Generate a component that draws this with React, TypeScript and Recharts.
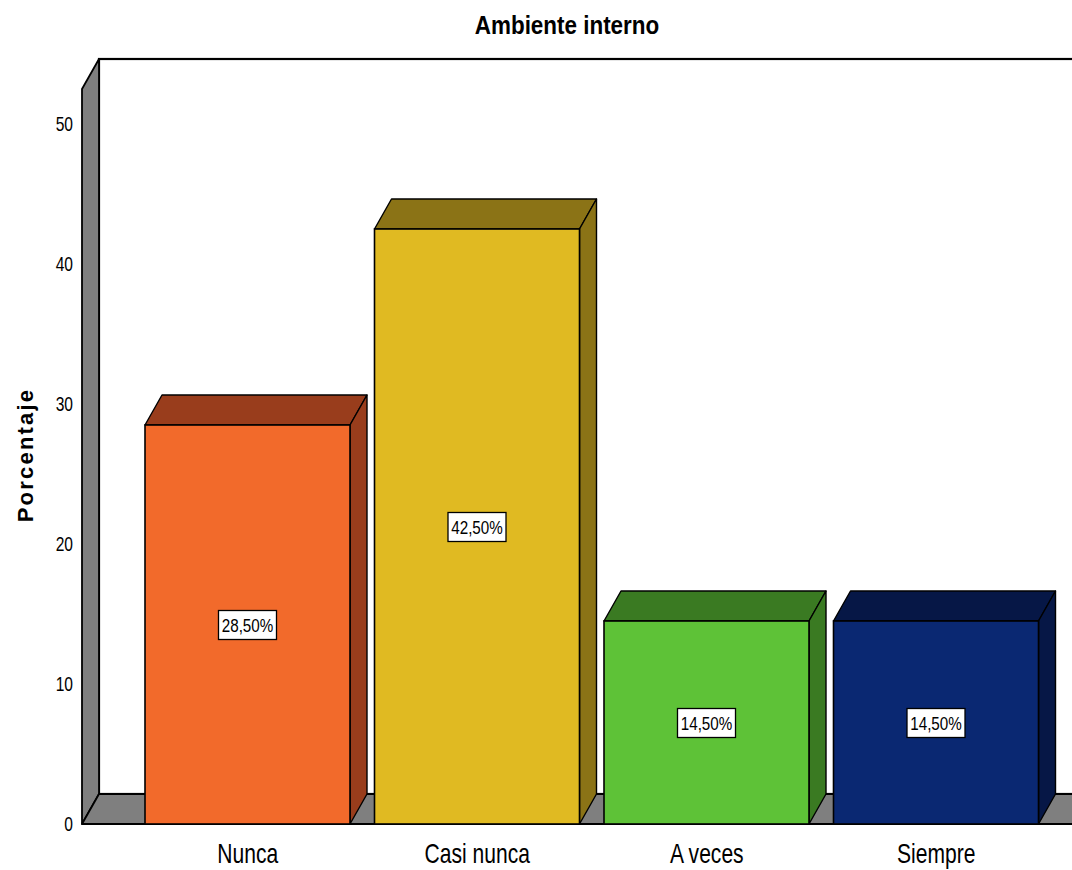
import { BarChart, Bar, XAxis, YAxis, LabelList } from 'recharts'

const categories = ['Nunca', 'Casi nunca', 'A veces', 'Siempre']
const percentages = [28.5, 42.5, 14.5, 14.5]
const valueLabels = ['28,50%', '42,50%', '14,50%', '14,50%']
const yTicks = [0, 10, 20, 30, 40, 50]

const frontColors = ['#F26A2B', '#E0BA22', '#5EC237', '#0A2872']
const darkColors = ['#993D1C', '#8B7316', '#3A7A22', '#061746']

const data = categories.map((name, i) => ({ name, value: percentages[i], label: valueLabels[i] }))

const W = 1072
const H = 870
const LEFT = 82
const TOP = 89
const BOTTOM = 824
const DX = 17
const DY = -30
const font = "'Liberation Sans', Arial, sans-serif"

// condensed text: the original uses a narrow face, so squeeze horizontally
function Narrow({ x, y, size, anchor = 'middle', sx = 0.78, weight = 'normal', children }: any) {
  return (
    <text
      transform={`translate(${x},${y}) scale(${sx},1)`}
      textAnchor={anchor}
      fontSize={size}
      fontWeight={weight}
      fontFamily={font}
      fill="#000"
    >
      {children}
    </text>
  )
}

function XTick(props: any) {
  const { x, y, payload } = props
  return <Narrow x={x} y={y + 37} size={27}>{payload.value}</Narrow>
}

function YTick(props: any) {
  const { x, y, payload } = props
  return <Narrow x={x} y={y + 7} size={20} anchor="end">{payload.value}</Narrow>
}

function Box3D(props: any) {
  const { x, y, width, height, index } = props
  const front = frontColors[index]
  const dark = darkColors[index]
  return (
    <g>
      <polygon
        points={`${x},${y} ${x + width},${y} ${x + width + DX},${y + DY} ${x + DX},${y + DY}`}
        fill={dark}
        stroke="#000"
        strokeWidth={1.4}
        strokeLinejoin="round"
      />
      <polygon
        points={`${x + width},${y} ${x + width + DX},${y + DY} ${x + width + DX},${y + height + DY} ${x + width},${y + height}`}
        fill={dark}
        stroke="#000"
        strokeWidth={1.4}
        strokeLinejoin="round"
      />
      <rect x={x} y={y} width={width} height={height} fill={front} stroke="#000" strokeWidth={1.6} />
    </g>
  )
}

function ValueTag(props: any) {
  const { x, y, width, height, value } = props
  const cx = x + width / 2
  const cy = y + height / 2
  return (
    <g>
      <rect x={cx - 29} y={cy - 14} width={58} height={29} fill="#fff" stroke="#000" strokeWidth={1.3} />
      <Narrow x={cx} y={cy + 7} size={19} sx={0.8}>{value}</Narrow>
    </g>
  )
}

function Frame() {
  return (
    <svg width={W} height={H} style={{ position: 'absolute', left: 0, top: 0 }}>
      {/* back wall */}
      <rect x={LEFT + DX} y={TOP + DY} width={W} height={BOTTOM - TOP} fill="#fff" stroke="#000" strokeWidth={2.2} />
      {/* left wall */}
      <polygon
        points={`${LEFT},${TOP} ${LEFT + DX},${TOP + DY} ${LEFT + DX},${BOTTOM + DY} ${LEFT},${BOTTOM}`}
        fill="#7F7F7F"
        stroke="#000"
        strokeWidth={1.8}
        strokeLinejoin="round"
      />
      {/* floor */}
      <polygon
        points={`${LEFT},${BOTTOM} ${LEFT + DX},${BOTTOM + DY} ${W + 10},${BOTTOM + DY} ${W + 10},${BOTTOM}`}
        fill="#7F7F7F"
        stroke="#000"
        strokeWidth={1.8}
        strokeLinejoin="round"
      />
      <Narrow x={567} y={34} size={25.5} sx={0.88} weight="bold">Ambiente interno</Narrow>
      <text
        x={33}
        y={455}
        transform="rotate(-90 33 455)"
        textAnchor="middle"
        fontSize={22}
        fontWeight="bold"
        letterSpacing={2.2}
        fontFamily={font}
        fill="#000"
      >
        Porcentaje
      </text>
    </svg>
  )
}

export default function App() {
  return (
    <div style={{ position: 'absolute', left: 0, top: 0, width: W, height: H, background: '#fff', overflow: 'hidden' }}>
      <Frame />
      <div style={{ position: 'absolute', left: 0, top: 0 }}>
        <BarChart width={W} height={H} data={data} margin={{ top: TOP, right: 0, left: 10, bottom: 6 }}>
          <XAxis
            dataKey="name"
            height={H - BOTTOM - 6}
            padding={{ left: 51, right: 21 }}
            axisLine={false}
            tickLine={false}
            tickSize={0}
            tick={<XTick />}
          />
          <YAxis
            width={LEFT - 10}
            domain={[0, 52.5]}
            ticks={yTicks}
            axisLine={false}
            tickLine={false}
            tickSize={0}
            tickMargin={9}
            tick={<YTick />}
          />
          <Bar dataKey="value" barSize={205} shape={<Box3D />} isAnimationActive={false}>
            <LabelList dataKey="label" content={<ValueTag />} />
          </Bar>
        </BarChart>
      </div>
    </div>
  )
}
